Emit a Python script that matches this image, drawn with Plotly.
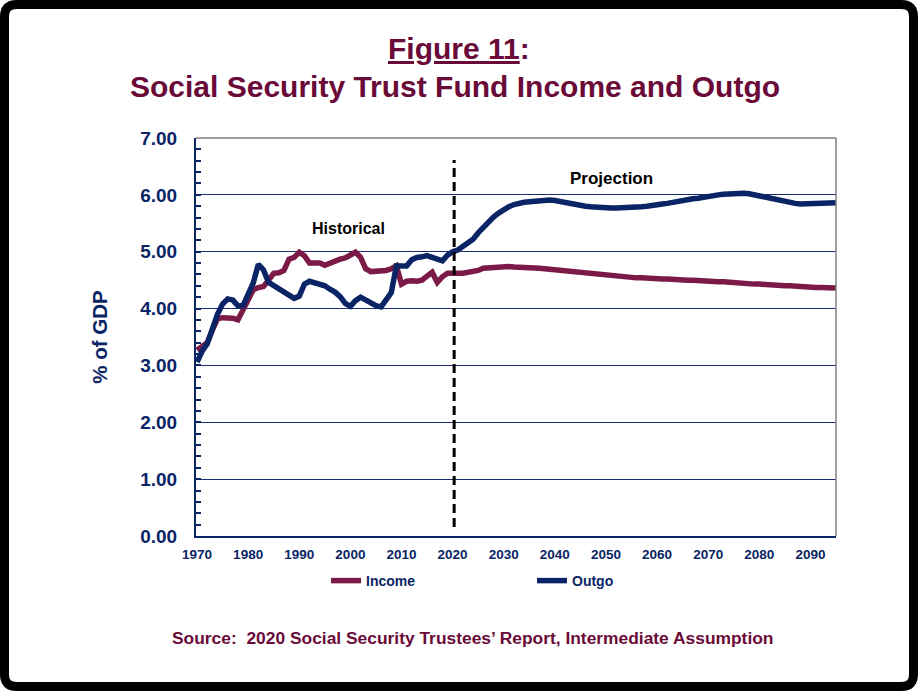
import plotly.graph_objects as go

# Years covered: historical 1970-2020, projected 2021-2095
years = list(range(1970, 2096))

# Trust fund income, % of GDP
income = [
    3.27, 3.33, 3.40, 3.62, 3.82, 3.84, 3.84, 3.83, 3.80, 3.97,   # 1970-1979
    4.16, 4.33, 4.37, 4.39, 4.50, 4.62, 4.63, 4.67, 4.87, 4.90,   # 1980-1989
    4.99, 4.93, 4.80, 4.79, 4.80, 4.76, 4.80, 4.85, 4.87, 4.89,   # 1990-1999
    4.95, 4.99, 4.90, 4.70, 4.65, 4.65, 4.65, 4.67, 4.70, 4.75,   # 2000-2009
    4.43, 4.48, 4.49, 4.48, 4.50, 4.58, 4.64, 4.46, 4.56, 4.62,   # 2010-2019
    4.63, 4.62, 4.62, 4.63, 4.64, 4.67, 4.71, 4.72, 4.73, 4.74,   # 2020-2029
    4.74, 4.74, 4.73, 4.73, 4.73, 4.72, 4.72, 4.71, 4.70, 4.69,   # 2030-2039
    4.68, 4.67, 4.66, 4.65, 4.65, 4.64, 4.63, 4.62, 4.61, 4.60,   # 2040-2049
    4.59, 4.58, 4.57, 4.56, 4.56, 4.55, 4.54, 4.54, 4.53, 4.53,   # 2050-2059
    4.52, 4.52, 4.52, 4.51, 4.51, 4.51, 4.50, 4.50, 4.49, 4.49,   # 2060-2069
    4.48, 4.48, 4.47, 4.47, 4.46, 4.46, 4.45, 4.45, 4.44, 4.43,   # 2070-2079
    4.43, 4.42, 4.42, 4.41, 4.41, 4.40, 4.40, 4.39, 4.39, 4.38,   # 2080-2089
    4.38, 4.37, 4.37, 4.37, 4.36, 4.36,                           # 2090-2095
]

# Trust fund outgo, % of GDP
outgo = [
    3.06, 3.25, 3.38, 3.65, 3.90, 4.08, 4.17, 4.15, 4.05, 4.05,   # 1970-1979
    4.25, 4.45, 4.78, 4.68, 4.46, 4.40, 4.36, 4.30, 4.24, 4.18,   # 1980-1989
    4.22, 4.43, 4.48, 4.46, 4.43, 4.40, 4.34, 4.29, 4.21, 4.09,   # 1990-1999
    4.04, 4.14, 4.20, 4.15, 4.09, 4.05, 4.03, 4.15, 4.28, 4.75,   # 2000-2009
    4.75, 4.75, 4.86, 4.90, 4.91, 4.93, 4.90, 4.87, 4.84, 4.94,   # 2010-2019
    5.00, 5.03, 5.10, 5.16, 5.22, 5.33, 5.43, 5.52, 5.61, 5.68,   # 2020-2029
    5.74, 5.79, 5.83, 5.86, 5.87, 5.88, 5.89, 5.89, 5.90, 5.91,   # 2030-2039
    5.90, 5.88, 5.87, 5.86, 5.84, 5.82, 5.80, 5.79, 5.78, 5.77,   # 2040-2049
    5.77, 5.77, 5.77, 5.77, 5.77, 5.77, 5.77, 5.79, 5.80, 5.82,   # 2050-2059
    5.83, 5.84, 5.85, 5.87, 5.88, 5.89, 5.91, 5.93, 5.94, 5.96,   # 2060-2069
    5.98, 5.99, 6.00, 6.01, 6.02, 6.03, 6.03, 6.03, 6.02, 6.00,   # 2070-2079
    5.98, 5.96, 5.93, 5.91, 5.89, 5.87, 5.86, 5.85, 5.84, 5.84,   # 2080-2089
    5.84, 5.84, 5.84, 5.84, 5.85, 5.86,                           # 2090-2095
]

x_ticks = list(range(1970, 2091, 10))
y_ticks = [0, 1, 2, 3, 4, 5, 6, 7]
y_tick_text = ["%.2f" % v for v in y_ticks]

MAROON = "#7b1a47"
NAVY = "#0a2466"
TITLE_RED = "#6a0a38"
FONT = "Liberation Sans, Arial, sans-serif"

W, H = 918, 691
ML, MR, MT, MB = 196, 82, 138, 155
PW, PH = W - ML - MR, H - MT - MB


def px_x(p):
    return (p - ML) / PW


def px_y(p):
    return (H - MB - p) / PH


fig = go.Figure()
fig.add_trace(go.Scatter(x=years, y=income, mode="lines", name="Income",
                         line=dict(color=MAROON, width=5.5)))
fig.add_trace(go.Scatter(x=years, y=outgo, mode="lines", name="Outgo",
                         line=dict(color=NAVY, width=5.5)))

# Rounded black frame around the whole figure
bx0, bx1, by0, by1, r = 4.5, W - 4.5, 4.5, H - 4.5, 12
frame_path = (
    f"M {px_x(bx0 + r)},{px_y(by0)} L {px_x(bx1 - r)},{px_y(by0)} "
    f"Q {px_x(bx1)},{px_y(by0)} {px_x(bx1)},{px_y(by0 + r)} "
    f"L {px_x(bx1)},{px_y(by1 - r)} "
    f"Q {px_x(bx1)},{px_y(by1)} {px_x(bx1 - r)},{px_y(by1)} "
    f"L {px_x(bx0 + r)},{px_y(by1)} "
    f"Q {px_x(bx0)},{px_y(by1)} {px_x(bx0)},{px_y(by1 - r)} "
    f"L {px_x(bx0)},{px_y(by0 + r)} "
    f"Q {px_x(bx0)},{px_y(by0)} {px_x(bx0 + r)},{px_y(by0)} Z"
)

shapes = [
    dict(type="path", xref="paper", yref="paper", path=frame_path,
         line=dict(color="black", width=9), layer="above"),
    # top and right edges of the plot frame
    dict(type="line", xref="paper", yref="paper", x0=0, x1=1, y0=1, y1=1,
         line=dict(color="#7f7f7f", width=1.5)),
    dict(type="line", xref="paper", yref="paper", x0=1, x1=1, y0=0, y1=1,
         line=dict(color="#7f7f7f", width=1.5)),
    # boundary between historical data and projection
    dict(type="line", xref="x", yref="paper", x0=2020.3, x1=2020.3,
         y0=px_y(527), y1=px_y(160),
         line=dict(color="black", width=3, dash="9px,5px")),
]


def note(text, cx, cy, size, color):
    return dict(text=text, x=px_x(cx), y=px_y(cy), xref="paper", yref="paper",
                xanchor="center", yanchor="middle", showarrow=False,
                font=dict(family=FONT, size=size, color=color))


annotations = [
    note("<b><u>Figure 11</u>:</b>", 459, 48, 30, TITLE_RED),
    note("<b>Social Security Trust Fund Income and Outgo</b>", 455, 86, 30, TITLE_RED),
    note("<b>Historical</b>", 348, 228, 16, "black"),
    note("<b>Projection</b>", 611, 178, 17, "black"),
    note("<b>Source:  2020 Social Security Trustees\u2019 Report, Intermediate Assumption</b>",
         472, 638, 17.4, TITLE_RED),
]

fig.update_layout(
    width=W, height=H, autosize=False,
    margin=dict(l=ML, r=MR, t=MT, b=MB, pad=0),
    paper_bgcolor="white", plot_bgcolor="white",
    font=dict(family=FONT, color=NAVY),
    shapes=shapes, annotations=annotations,
    showlegend=True,
    legend=dict(orientation="h", x=px_x(326), y=px_y(581), xanchor="left", yanchor="middle",
                font=dict(family=FONT, size=14, color=NAVY, weight="bold"),
                entrywidth=161, itemwidth=30, bgcolor="rgba(0,0,0,0)", traceorder="normal"),
    xaxis=dict(range=[1969.8, 2095], tickvals=x_ticks, ticks="", showgrid=False,
               showline=True, linecolor=NAVY, linewidth=2, zeroline=False,
               tickfont=dict(family=FONT, size=13.5, color=NAVY, weight="bold"),
               ticklabelstandoff=5),
    yaxis=dict(range=[0, 7], tickvals=y_ticks, ticktext=y_tick_text,
               ticks="inside", ticklen=5, tickcolor=NAVY, tickwidth=1.5,
               minor=dict(dtick=0.2, ticks="inside", ticklen=5, tickcolor=NAVY,
                          tickwidth=1.5, showgrid=False),
               showgrid=True, gridcolor="#1a2b70", gridwidth=1,
               showline=True, linecolor=NAVY, linewidth=2, zeroline=False,
               tickfont=dict(family=FONT, size=19, color=NAVY, weight="bold"),
               ticklabelstandoff=13,
               title=dict(text="<b>% of GDP</b>", standoff=27,
                          font=dict(family=FONT, size=20.5, color=NAVY))),
)

fig.write_html("out.html")
